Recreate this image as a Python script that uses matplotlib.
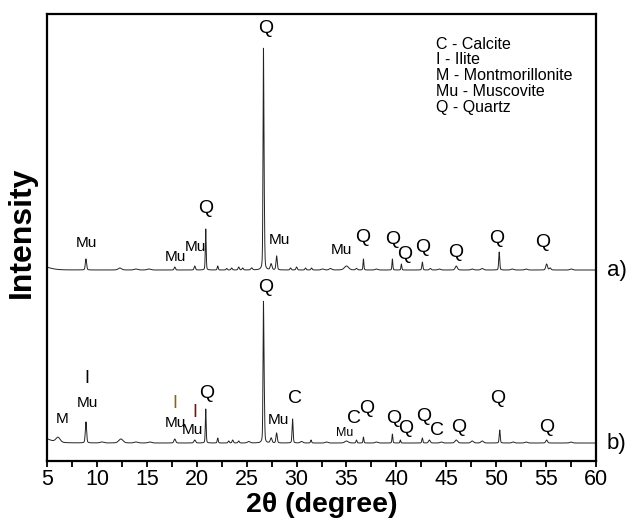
import numpy as np
import matplotlib
matplotlib.use("Agg")
import matplotlib.pyplot as plt
from matplotlib.ticker import MultipleLocator

plt.rcParams['font.family'] = ['Liberation Sans', 'DejaVu Sans']

# ---------------- data ----------------
# peak lists: position (2theta), height (a.u.), FWHM (deg)
a_pos = [4.3, 8.9, 12.3, 13.9, 15.2, 17.8, 19.8, 20.9, 22.1, 23.0, 23.5, 24.2, 24.6, 25.5,
         26.68, 26.76, 27.45, 28.0, 29.4, 30.0, 30.9, 31.5, 32.6, 33.4, 35.0, 36.0, 36.7,
         38.0, 39.6, 40.5, 42.6, 43.4, 44.3, 46.0, 47.6, 48.6, 50.3, 51.6, 53.0, 55.05,
         55.4, 57.5]
a_hgt = [4, 11, 2, 1, 1, 3, 4, 41, 4, 1.5, 2, 3, 2, 2,
         212, 48, 6, 14, 2, 3, 2, 2, 1, 1.5, 4, 1.5, 11,
         1, 11, 6, 8, 1.5, 1, 4, 1, 1.5, 18, 1, 1, 6,
         2, 1]
a_wid = [2.0, 0.15, 0.4, 0.4, 0.4, 0.15, 0.15, 0.1, 0.12, 0.15, 0.15, 0.15, 0.15, 0.2,
         0.1, 0.1, 0.2, 0.15, 0.15, 0.15, 0.15, 0.15, 0.3, 0.3, 0.5, 0.2, 0.1,
         0.3, 0.1, 0.1, 0.12, 0.2, 0.3, 0.25, 0.3, 0.3, 0.12, 0.3, 0.3, 0.2,
         0.2, 0.3]
a_base = 191

b_pos = [4.3, 6.1, 8.9, 10.5, 12.4, 13.9, 15.3, 17.8, 19.8, 20.9, 22.1, 23.2, 23.6, 24.2,
         25.2, 26.68, 26.76, 27.45, 28.0, 29.6, 30.5, 31.45, 33.0, 35.0, 36.0, 36.7,
         38.0, 39.6, 40.4, 42.6, 43.3, 44.5, 46.0, 47.6, 48.6, 50.35, 51.7, 53.0, 55.05,
         57.5]
b_hgt = [6, 5, 21, 1, 4, 1, 1, 4, 3, 34, 5, 2, 3, 2,
         1.5, 134, 38, 5, 10, 24, 1.5, 3, 1, 2, 3, 6,
         1, 9, 3, 5, 3, 1, 3, 2, 2, 13, 1, 1, 3,
         1]
b_wid = [2.0, 0.5, 0.15, 0.4, 0.5, 0.4, 0.4, 0.2, 0.2, 0.1, 0.12, 0.15, 0.15, 0.15,
         0.3, 0.1, 0.1, 0.2, 0.15, 0.12, 0.3, 0.12, 0.3, 0.4, 0.12, 0.1,
         0.3, 0.1, 0.1, 0.12, 0.2, 0.3, 0.3, 0.3, 0.3, 0.12, 0.3, 0.3, 0.2,
         0.3]
b_base = 18

# peak labels: text, 2theta, intensity, size, colour
a_labels = [("Mu", 8.97, 218, 11, "black"), ("Mu", 17.83, 204, 11, "black"),
            ("Mu", 19.83, 214, 11, "black"), ("Q", 20.9, 253, 14, "black"),
            ("Q", 26.95, 433, 14, "black"), ("Mu", 28.25, 221, 11, "black"),
            ("Mu", 34.46, 211, 11, "black"), ("Q", 36.6, 224, 14, "black"),
            ("Q", 39.67, 222, 14, "black"), ("Q", 40.87, 207, 14, "black"),
            ("Q", 42.68, 214, 14, "black"), ("Q", 45.98, 209, 14, "black"),
            ("Q", 50.09, 223, 14, "black"), ("Q", 54.7, 219, 14, "black")]
b_labels = [("M", 6.53, 42, 11, "black"), ("I", 8.97, 83, 13, "black"),
            ("Mu", 9.06, 58, 11, "black"), ("I", 17.83, 58, 13, "#8a6410"),
            ("Mu", 17.83, 38, 11, "black"), ("I", 19.83, 49, 13, "#7a1010"),
            ("Mu", 19.6, 31, 11, "black"), ("Q", 20.96, 68, 14, "black"),
            ("Q", 26.91, 174, 14, "black"), ("Mu", 28.15, 41, 11, "black"),
            ("C", 29.85, 63, 14, "black"), ("Mu", 34.86, 28, 9, "black"),
            ("C", 35.73, 43, 14, "black"), ("Q", 37.06, 53, 14, "black"),
            ("Q", 39.7, 43, 14, "black"), ("Q", 40.97, 33, 14, "black"),
            ("Q", 42.7, 45, 14, "black"), ("C", 44.05, 31, 14, "black"),
            ("Q", 46.25, 34, 14, "black"), ("Q", 50.12, 63, 14, "black"),
            ("Q", 55.07, 34, 14, "black")]

legend_lines = ["C - Calcite", "I - Ilite", "M - Montmorillonite",
                "Mu - Muscovite", "Q - Quartz"]
xticks = [5, 10, 15, 20, 25, 30, 35, 40, 45, 50, 55, 60]


def profile(x, pos, hgt, wid, base):
    y = np.full_like(x, float(base))
    for p, h, w in zip(pos, hgt, wid):
        hw = w / 2.0
        lor = 1.0 / (1.0 + ((x - p) / hw) ** 2)
        gau = np.exp(-np.log(2) * ((x - p) / hw) ** 2)
        y += h * (0.3 * lor + 0.7 * gau)
    return y


x = np.arange(5.0, 60.0001, 0.01)
ya = profile(x, a_pos, a_hgt, a_wid, a_base)
yb = profile(x, b_pos, b_hgt, b_wid, b_base)

# ---------------- figure ----------------
fig = plt.figure(figsize=(6.32, 5.29), dpi=100)
ax = fig.add_axes([0.0744, 0.1285, 0.8687, 0.845])
ax.plot(x, ya, color="#222222", lw=0.7)
ax.plot(x, yb, color="#222222", lw=0.7)
ax.set_xlim(5, 60)
ax.set_ylim(0, 447)

for t, xx, yy, s, c in a_labels + b_labels:
    ax.text(xx, yy, t, ha="center", va="center", fontsize=s, color=c)

for i, t in enumerate(legend_lines):
    ax.text(43.98, 417 - i * 15.8, t, ha="left", va="center", fontsize=11.5)

ax.text(1.02, 191 / 447, "a)", transform=ax.transAxes, ha="left", va="center",
        fontsize=16)
ax.text(1.02, 18 / 447, "b)", transform=ax.transAxes, ha="left", va="center",
        fontsize=16)

ax.set_yticks([])
ax.set_xticks(xticks)
ax.xaxis.set_minor_locator(MultipleLocator(2.5))
ax.tick_params(axis="x", which="both", direction="out", length=4.5, width=1.3,
               labelsize=15.5, pad=1.5)
for sp in ax.spines.values():
    sp.set_linewidth(1.6)

ax.set_xlabel("2θ (degree)", fontsize=20.5, fontweight="bold", labelpad=1)
fig.text(22 / 632, 1 - 232 / 529, "Intensity", rotation=90, ha="center",
         va="center", fontsize=23, fontweight="bold")

fig.savefig("out.png", dpi=100)
